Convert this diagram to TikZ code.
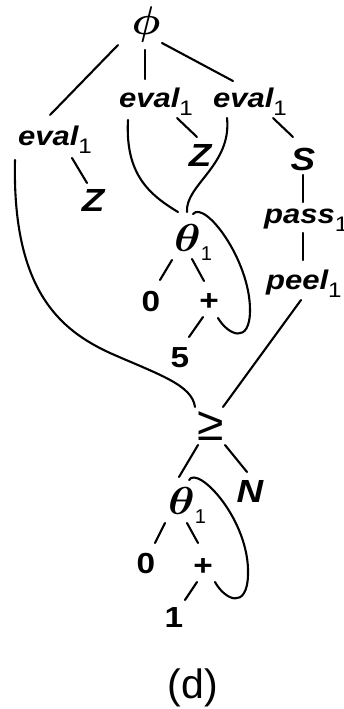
\documentclass[tikz,border=0pt]{standalone}
\usepackage{graphicx}
\usepackage{amsmath}
\usepackage{fontspec}
\setmainfont{Liberation Sans}
\newfontfamily\lblfont{Liberation Sans}[FakeStretch=1.15]
\newcommand\lowone[2]{\raisebox{-#1}{\fontsize{#2}{#2}\selectfont\mdseries\upshape 1}}
\begin{document}
\begin{tikzpicture}[x=1pt,y=-1pt,line width=2.1pt,
  lab/.style={inner sep=0pt,anchor=base west,font=\lblfont\bfseries\itshape\fontsize{27}{27}\selectfont},
  letter/.style={inner sep=0pt,font=\lblfont\bfseries\itshape\fontsize{32}{32}\selectfont},
  num/.style={inner sep=0pt,font=\lblfont\bfseries\fontsize{29}{29}\selectfont},
  grk/.style={inner sep=0pt,anchor=base west},
  conn/.style={line cap=round}]
\useasboundingbox (0,0) rectangle (344,709);
% nodes
\node[inner sep=0pt] (phi) at (146,25) {\scalebox{4}{$\boldsymbol{\phi}$}};
\node[lab] (evL) at (17,145) {eval\lowone{8pt}{21}};
\node[lab] (evM) at (118,107) {eval\lowone{8pt}{21}};
\node[lab] (evR) at (212,107) {eval\lowone{8pt}{21}};
\node[letter] (ZL) at (93,200) {Z};
\node[letter] (ZM) at (200,155) {Z};
\node[letter] (S) at (303,159) {S};
\node[lab] (pass) at (263,223) {pass\lowone{8pt}{21}};
\node[lab] (peel) at (265,289) {peel\lowone{8pt}{21}};
\node[grk] (thA) at (173,251) {\scalebox{4.5}[3.9]{$\boldsymbol{\theta}$}\lowone{9pt}{20}};
\node[num] (zA) at (151,302) {0};
\node[num] (pA) at (209,302) {+};
\node[num] (five) at (180,358) {5};
\node[inner sep=0pt,font=\fontsize{48}{48}\selectfont] (geq) at (211,426) {≥};
\node[letter] (N) at (250,491) {N};
\node[grk] (thB) at (167,514) {\scalebox{4.5}[3.9]{$\boldsymbol{\theta}$}\lowone{9pt}{20}};
\node[num] (zB) at (146,564) {0};
\node[num] (pB) at (203,567) {+};
\node[num] (one) at (174,618) {1};
\node[inner sep=0pt,font=\fontsize{41}{41}\selectfont] (cap) at (193,688) {(d)};
\coordinate (bendL) at (110,353);
\coordinate (loopA) at (250,310);
\coordinate (loopB) at (248,575);
% straight connectors
\draw[conn] ([shift={(-28,20)}]phi.center) -- ([shift={(33,-30)}]evL.base west);
\draw[conn] ([shift={(-1,25)}]phi.center) -- ([shift={(27,-28)}]evM.base west);
\draw[conn] ([shift={(16,18)}]phi.center) -- ([shift={(21,-26)}]evR.base west);
\draw[conn] ([shift={(59,11)}]evM.base west) -- ([shift={(-3,-18)}]ZM.center);
\draw[conn] ([shift={(61,11)}]evR.base west) -- ([shift={(-10,-22)}]S.center);
\draw[conn] ([shift={(55,13)}]evL.base west) -- ([shift={(-6,-17)}]ZL.center);
\draw[conn] ([shift={(0,16)}]S.center) -- ([shift={(40,-21)}]pass.base west);
\draw[conn] ([shift={(40,10)}]pass.base west) -- ([shift={(38,-29)}]peel.base west);
\draw[conn] ([shift={(36,11)}]peel.base west) -- ([shift={(12,-19)}]geq.center);
\draw[conn] ([shift={(-1,9)}]thA.base west) -- ([shift={(9,-22)}]zA.center);
\draw[conn] ([shift={(19,8)}]thA.base west) -- ([shift={(-5,-21)}]pA.center);
\draw[conn] ([shift={(-6,15)}]pA.center) -- ([shift={(9,-21)}]five.center);
\draw[conn] ([shift={(-13,19)}]geq.center) -- ([shift={(12,-37)}]thB.base west);
\draw[conn] ([shift={(14,19)}]geq.center) -- ([shift={(-3,-19)}]N.center);
\draw[conn] ([shift={(-2,9)}]thB.base west) -- ([shift={(9,-21)}]zB.center);
\draw[conn] ([shift={(20,9)}]thB.base west) -- ([shift={(-5,-24)}]pB.center);
\draw[conn] ([shift={(-6,15)}]pB.center) -- ([shift={(11,-18)}]one.center);
% curved connectors
\draw[conn] ([shift={(-2,15)}]evL.base west) .. controls +(-3,130) and +(-50,-23) .. (bendL)
  .. controls +(50,22) and +(-3,-22) .. ([shift={(-16,-19)}]geq.center);
\draw[conn] ([shift={(10,13)}]evM.base west) .. controls +(-3,55) and +(-28,-17) .. ([shift={(5,-39)}]thA.base west);
\draw[conn] ([shift={(15,11)}]evR.base west) .. controls +(5,47) and +(-2,-27) .. ([shift={(14,-39)}]thA.base west);
\draw[conn] ([shift={(20,-37)}]thA.base west) .. controls +(12,-14) and +(0,-50) .. (loopA)
  .. controls +(0,35) and +(10,17) .. ([shift={(9,16)}]pA.center);
\draw[conn] ([shift={(22,-34)}]thB.base west) .. controls +(9,-15) and +(2,-55) .. (loopB)
  .. controls +(-1,35) and +(10,18) .. ([shift={(12,15)}]pB.center);
\end{tikzpicture}
\end{document}
